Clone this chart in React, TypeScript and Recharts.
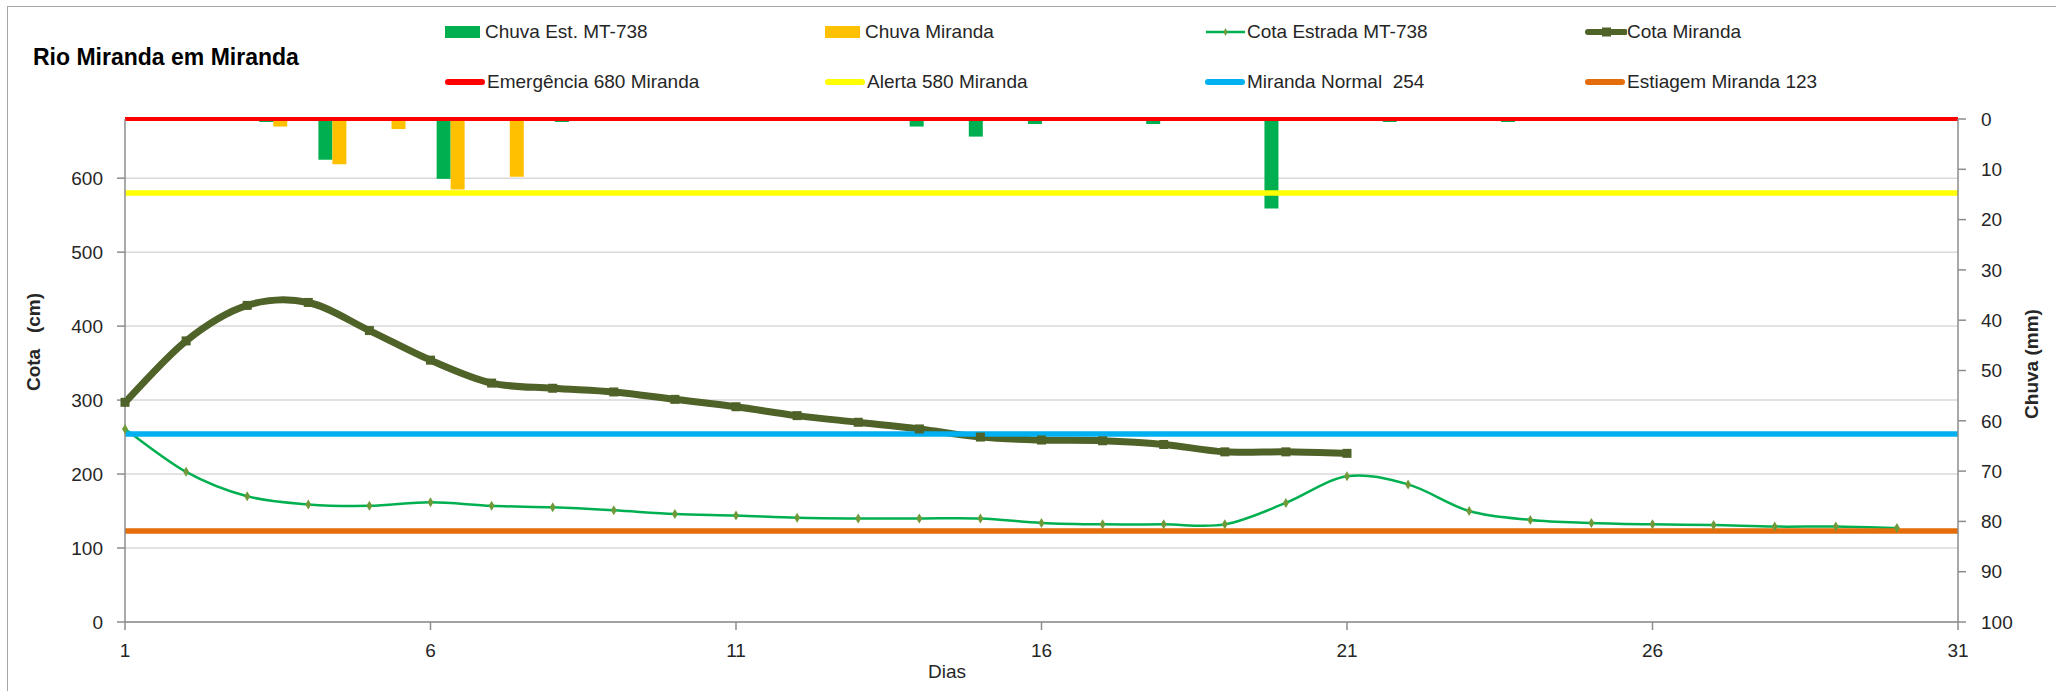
import React from 'react';
import {
  ComposedChart, Bar, Line, XAxis, YAxis, CartesianGrid, ReferenceLine,
} from 'recharts';

const days = [1, 2, 3, 4, 5, 6, 7, 8, 9, 10, 11, 12, 13, 14, 15, 16, 17, 18, 19, 20, 21, 22, 23, 24, 25, 26, 27, 28, 29, 30, 31];
const chuvaMT738 = [0, 0, 0.6, 8.1, 0, 11.9, 0, 0.6, 0, 0, 0, 0, 0, 1.5, 3.5, 1.0, 0, 1.0, 0, 17.8, 0, 0.6, 0, 0.6, 0, 0, 0, 0, 0, 0, 0];
const chuvaMiranda = [0, 0, 1.5, 9.0, 2.0, 14.0, 11.5, 0, 0, 0, 0, 0, 0, 0, 0, 0, 0, 0, 0, 0, 0, 0, 0, 0, 0, 0, 0, 0, 0, 0, 0];
const cotaEstrada = [261, 203, 170, 159, 157, 162, 157, 155, 151, 146, 144, 141, 140, 140, 140, 134, 132, 132, 132, 161, 197, 186, 150, 138, 134, 132, 131, 129, 129, 127, null];
const cotaMiranda = [297, 380, 428, 432, 394, 354, 323, 316, 311, 301, 291, 279, 270, 261, 250, 246, 245, 240, 230, 230, 228, null, null, null, null, null, null, null, null, null, null];

const xTicks = [1, 6, 11, 16, 21, 26, 31];
const leftTicks = [0, 100, 200, 300, 400, 500, 600];
const rightTicks = [0, 10, 20, 30, 40, 50, 60, 70, 80, 90, 100];

const EMERGENCIA = 680;
const ALERTA = 580;
const NORMAL = 254;
const ESTIAGEM = 123;

const data = days.map((d, i) => ({
  day: d,
  chuvaMT738: chuvaMT738[i],
  chuvaMiranda: chuvaMiranda[i],
  cotaEstrada: cotaEstrada[i],
  cotaMiranda: cotaMiranda[i],
}));

const FONT = '"Liberation Sans", Arial, sans-serif';
const TXT = '#262626';

// Excel-like smoothing (Catmull-Rom to Bezier)
function excelCurve(context: any) {
  let pts: number[][] = [];
  return {
    areaStart() {},
    areaEnd() {},
    lineStart() { pts = []; },
    lineEnd() {
      const n = pts.length;
      if (!n) return;
      context.moveTo(pts[0][0], pts[0][1]);
      for (let i = 0; i < n - 1; i++) {
        const p0 = pts[i - 1] || pts[i];
        const p1 = pts[i];
        const p2 = pts[i + 1];
        const p3 = pts[i + 2] || p2;
        context.bezierCurveTo(
          p1[0] + (p2[0] - p0[0]) / 6, p1[1] + (p2[1] - p0[1]) / 6,
          p2[0] - (p3[0] - p1[0]) / 6, p2[1] - (p3[1] - p1[1]) / 6,
          p2[0], p2[1],
        );
      }
    },
    point(x: number, y: number) { pts.push([+x, +y]); },
  };
}

const SquareDot = (props: any) => {
  const { cx, cy, value } = props;
  if (value == null || cx == null || cy == null) return null;
  return <rect x={cx - 4.5} y={cy - 4.5} width={9} height={9} fill="#4F6228" />;
};

const DiamondDot = (props: any) => {
  const { cx, cy, value } = props;
  if (value == null || cx == null || cy == null) return null;
  return (
    <path d={`M${cx},${cy - 5} L${cx + 3},${cy} L${cx},${cy + 5} L${cx - 3},${cy} Z`} fill="#6F9A3A" />
  );
};

const legendRow1 = [
  { x: 445, label: 'Chuva Est. MT-738', kind: 'rect', color: '#00B050' },
  { x: 825, label: 'Chuva Miranda', kind: 'rect', color: '#FFC000' },
  { x: 1205, label: 'Cota Estrada MT-738', kind: 'estrada', color: '#00B050' },
  { x: 1585, label: 'Cota Miranda', kind: 'miranda', color: '#4F6228' },
];
const legendRow2 = [
  { x: 445, label: 'Emergência 680 Miranda', kind: 'line', color: '#FF0000' },
  { x: 825, label: 'Alerta 580 Miranda', kind: 'line', color: '#FFFF00' },
  { x: 1205, label: 'Miranda Normal  254', kind: 'line', color: '#00B0F0' },
  { x: 1585, label: 'Estiagem Miranda 123', kind: 'line', color: '#E46C0A' },
];

function Swatch({ kind, color }: { kind: string; color: string }) {
  return (
    <svg width={42} height={16} style={{ display: 'block' }}>
      {kind === 'rect' && <rect x={0} y={2} width={35} height={12} fill={color} />}
      {kind === 'line' && <line x1={3} y1={8} x2={37} y2={8} stroke={color} strokeWidth={6} strokeLinecap="round" />}
      {kind === 'estrada' && (
        <g>
          <line x1={1} y1={8} x2={40} y2={8} stroke={color} strokeWidth={2.5} />
          <path d="M20.5,4 L22.5,8 L20.5,12 L18.5,8 Z" fill="#6F9A3A" />
        </g>
      )}
      {kind === 'miranda' && (
        <g>
          <line x1={3} y1={8} x2={40} y2={8} stroke={color} strokeWidth={6} strokeLinecap="round" />
          <rect x={17} y={3.5} width={9} height={9} fill={color} />
        </g>
      )}
    </svg>
  );
}

function LegendItem({ item, y }: { item: any; y: number }) {
  return (
    <div style={{ position: 'absolute', left: item.x, top: y - 8, height: 16, display: 'flex', alignItems: 'center' }}>
      <Swatch kind={item.kind} color={item.color} />
      <span style={{ position: 'absolute', left: item.kind === 'rect' ? 40 : 42, top: -3, fontSize: 19, lineHeight: '22px', color: TXT, whiteSpace: 'pre', fontFamily: FONT }}>
        {item.label}
      </span>
    </div>
  );
}

export default function App() {
  return (
    <div style={{ position: 'absolute', left: 0, top: 0, width: 2056, height: 691, background: '#fff', overflow: 'hidden', fontFamily: FONT }}>
      <div style={{ position: 'absolute', left: 7, top: 6, width: 2100, height: 800, borderLeft: '1.5px solid #A6A6A6', borderTop: '1.5px solid #A6A6A6' }} />
      <ComposedChart
        width={2056}
        height={691}
        data={data}
        margin={{ top: 119, right: 38, bottom: 29, left: 65 }}
        barGap={0}
        style={{ position: 'absolute', left: 0, top: 0 }}
      >
        <CartesianGrid xAxisId="line" yAxisId="left" vertical={false} stroke="#D9D9D9" strokeWidth={1.5} />
        <XAxis
          xAxisId="line"
          type="number"
          dataKey="day"
          domain={[1, 31]}
          ticks={xTicks}
          interval={0}
          height={40}
          tickSize={8}
          tickMargin={14}
          axisLine={{ stroke: '#8C8C8C', strokeWidth: 1.5 }}
          tickLine={{ stroke: '#8C8C8C', strokeWidth: 1.5 }}
          tick={{ fill: TXT, fontSize: 19, fontFamily: FONT }}
        />
        <XAxis xAxisId="bar" type="category" dataKey="day" hide height={0} />
        <YAxis
          yAxisId="left"
          orientation="left"
          domain={[0, 680]}
          ticks={leftTicks}
          interval={0}
          width={60}
          tickSize={8}
          tickMargin={14}
          axisLine={{ stroke: '#8C8C8C', strokeWidth: 1.5 }}
          tickLine={{ stroke: '#8C8C8C', strokeWidth: 1.5 }}
          tick={{ fill: TXT, fontSize: 19, fontFamily: FONT }}
        />
        <YAxis
          yAxisId="right"
          orientation="right"
          domain={[0, 100]}
          reversed
          ticks={rightTicks}
          interval={0}
          width={60}
          tickSize={8}
          tickMargin={15}
          axisLine={{ stroke: '#8C8C8C', strokeWidth: 1.5 }}
          tickLine={{ stroke: '#8C8C8C', strokeWidth: 1.5 }}
          tick={{ fill: TXT, fontSize: 19, fontFamily: FONT }}
        />
        <Bar xAxisId="bar" yAxisId="right" dataKey="chuvaMT738" fill="#00B050" barSize={14} isAnimationActive={false} />
        <Bar xAxisId="bar" yAxisId="right" dataKey="chuvaMiranda" fill="#FFC000" barSize={14} isAnimationActive={false} />
        <Line
          xAxisId="line" yAxisId="left" dataKey="cotaEstrada" type={excelCurve as any}
          stroke="#00B050" strokeWidth={2.5} dot={<DiamondDot />} activeDot={false}
          isAnimationActive={false}
        />
        <Line
          xAxisId="line" yAxisId="left" dataKey="cotaMiranda" type={excelCurve as any}
          stroke="#4F6228" strokeWidth={7} dot={<SquareDot />} activeDot={false}
          isAnimationActive={false}
        />
        <ReferenceLine xAxisId="line" yAxisId="left" y={EMERGENCIA} stroke="#FF0000" strokeWidth={4} />
        <ReferenceLine xAxisId="line" yAxisId="left" y={ALERTA} stroke="#FFFF00" strokeWidth={5.5} />
        <ReferenceLine xAxisId="line" yAxisId="left" y={NORMAL} stroke="#00B0F0" strokeWidth={5.5} />
        <ReferenceLine xAxisId="line" yAxisId="left" y={ESTIAGEM} stroke="#E46C0A" strokeWidth={5.5} />
      </ComposedChart>

      <div style={{ position: 'absolute', left: 33, top: 57, transform: 'translateY(-50%)', fontSize: 23, fontWeight: 'bold', color: '#000', lineHeight: 1, whiteSpace: 'pre' }}>
        Rio Miranda em Miranda
      </div>

      {legendRow1.map((it) => <LegendItem key={it.label} item={it} y={32} />)}
      {legendRow2.map((it) => <LegendItem key={it.label} item={it} y={82} />)}

      <div style={{ position: 'absolute', left: 33, top: 342, transform: 'translate(-50%, -50%) rotate(-90deg)', fontSize: 19, fontWeight: 'bold', color: TXT, whiteSpace: 'pre', lineHeight: 1 }}>
        Cota   (cm)
      </div>
      <div style={{ position: 'absolute', left: 2031, top: 364, transform: 'translate(-50%, -50%) rotate(-90deg)', fontSize: 19, fontWeight: 'bold', color: TXT, whiteSpace: 'pre', lineHeight: 1 }}>
        Chuva (mm)
      </div>
      <div style={{ position: 'absolute', left: 947, top: 671, transform: 'translate(-50%, -50%)', fontSize: 19, color: TXT, whiteSpace: 'pre', lineHeight: 1 }}>
        Dias
      </div>
    </div>
  );
}
